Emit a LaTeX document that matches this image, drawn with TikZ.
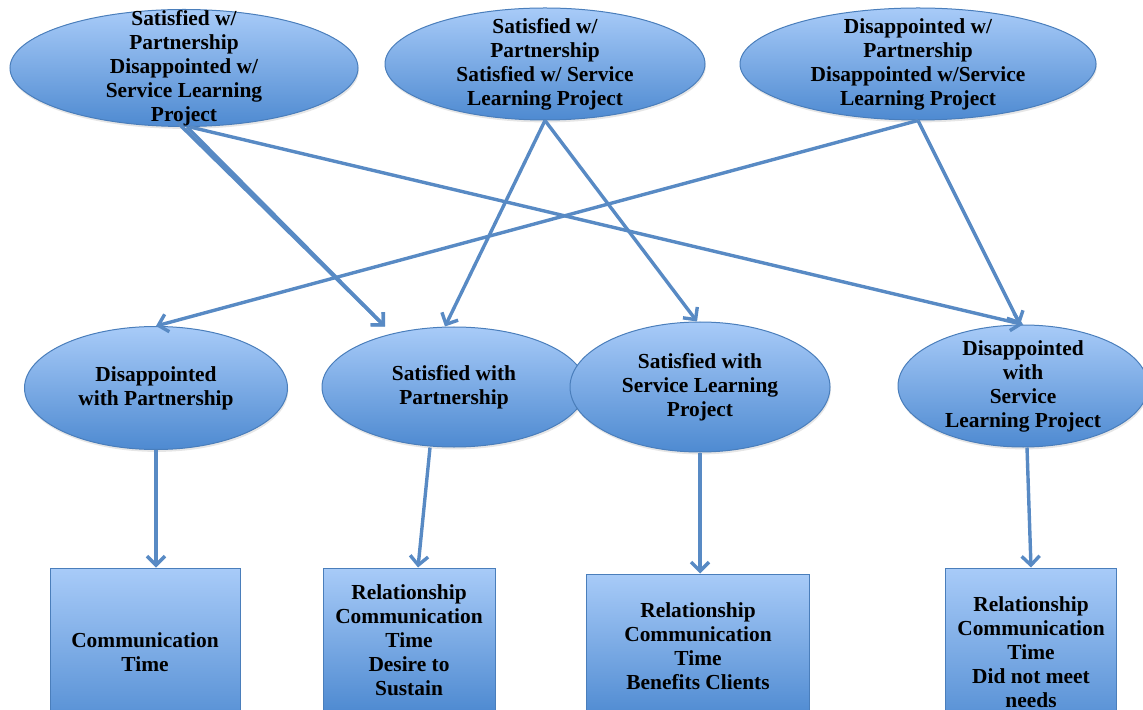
\documentclass[tikz,border=0pt]{standalone}
\usepackage{fontspec}
\setmainfont{Liberation Serif}
\usepackage{tikz}
\usetikzlibrary{arrows.meta,shapes,shadows}
\definecolor{lineB}{RGB}{88,138,196}
\definecolor{topB}{RGB}{168,203,248}
\definecolor{botB}{RGB}{78,138,209}
\definecolor{rimB}{RGB}{74,126,187}
\tikzstyle{edge}=[draw=lineB, line width=1.7pt, -{Straight Barb[length=4.5pt,width=9pt,line width=1.7pt]}]
\tikzstyle{ovalV}=[ellipse, draw=rimB, line width=0.5pt, top color=topB, bottom color=botB, inner sep=0pt, drop shadow={opacity=0.2, shadow xshift=0.4pt, shadow yshift=-1.2pt}]
\tikzstyle{boxV}=[rectangle, draw=rimB, line width=0.5pt, top color=topB, bottom color=botB, inner sep=0pt]
\tikzset{every label/.style={align=center, font=\bfseries\fontsize{10.7}{12}\selectfont}}

\begin{document}
\begin{tikzpicture}[x=0.5pt,y=-0.5pt]
      \useasboundingbox (0,0) rectangle (1143,710);
      \clip (0,0) rectangle (1143,710);
      % top row
      \node(t1) [ovalV, minimum width=174pt, minimum height=58.5pt, label=center:{Satisfied w/\\Partnership\\Disappointed w/\\Service Learning\\Project}] at (184,68){};
      \node(t2) [ovalV, minimum width=160pt, minimum height=56pt, label=center:{Satisfied w/\\Partnership\\Satisfied w/ Service\\Learning Project}] at (545,64){};
      \node(t3) [ovalV, minimum width=178pt, minimum height=56pt, label=center:{Disappointed w/\\Partnership\\Disappointed w/Service\\Learning Project}] at (918,64){};
      % middle row
      \node(m1) [ovalV, minimum width=131.5pt, minimum height=61.5pt, label=center:{Disappointed\\with Partnership}] at (156,388){};
      \node(m2) [ovalV, minimum width=132pt, minimum height=60pt, label=center:{Satisfied with\\Partnership}] at (454,387){};
      \node(m3) [ovalV, minimum width=130pt, minimum height=65pt, label=center:{Satisfied with\\Service Learning\\Project}] at (700,387){};
      \node(m4) [ovalV, minimum width=125pt, minimum height=61pt, label=center:{Disappointed\\with\\Service\\Learning Project}] at (1023,386){};
      % bottom row
      \node(b1) [boxV, minimum width=95pt, minimum height=84pt, label=center:{Communication\\Time}] at (145,652){};
      \node(b2) [boxV, minimum width=86pt, minimum height=72pt, label=center:{Relationship\\Communication\\Time\\Desire to\\Sustain}] at (409,640){};
      \node(b3) [boxV, minimum width=111.5pt, minimum height=72pt, label=center:{Relationship\\Communication\\Time\\Benefits Clients}] at (698,646){};
      \node(b4) [boxV, minimum width=85.5pt, minimum height=84pt, label=center:{Relationship\\Communication\\Time\\Did not meet\\needs}] at (1031,652){};
      % crossing arrows
      \draw[edge] ([xshift=-3pt,yshift=2pt]t1.south) to ([xshift=-34.5pt]m2.north);
      \draw[edge] ([xshift=1.5pt]t1.south) to ([xshift=-34.5pt]m2.north);
      \draw[edge] ([xshift=3pt]t1.south) to (m4.north);
      \draw[edge] (t2.south) to ([xshift=-4.5pt]m2.north);
      \draw[edge] (t2.south) to ([xshift=-1.5pt]m3.north);
      \draw[edge] (t3.south) to (m1.north);
      \draw[edge] (t3.south) to ([xshift=-1.5pt]m4.north);
      % down arrows
      \draw[edge] (m1.south) to (m1.south |- b1.north);
      \draw[edge] ([xshift=-12pt]m2.south) to ([xshift=4.5pt]b2.north);
      \draw[edge] (m3.south) to (m3.south |- b3.north);
      \draw[edge] ([xshift=2pt]m4.south) to (b4.north);
    \end{tikzpicture}
\end{document}
